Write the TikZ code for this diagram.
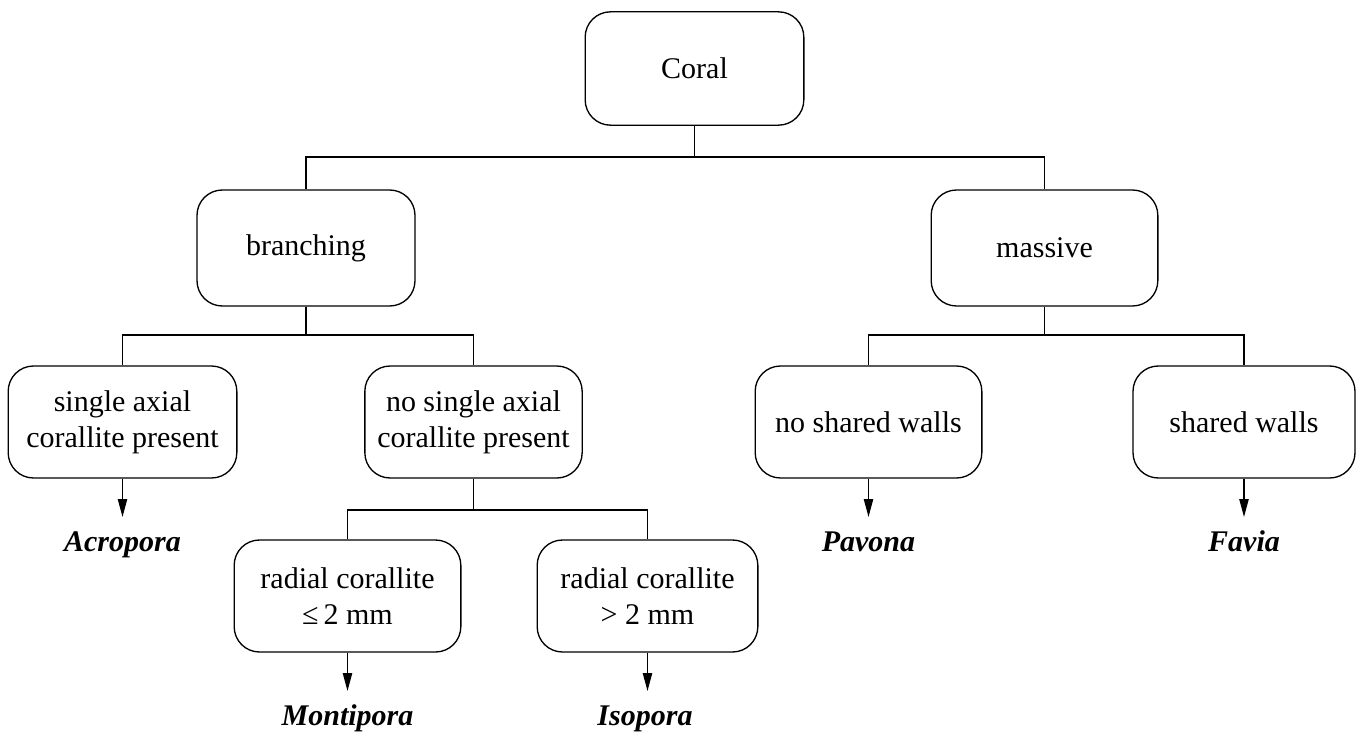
\documentclass[tikz,border=0pt]{standalone}
\usepackage{fontspec}
\setmainfont{Liberation Serif}
\usetikzlibrary{arrows.meta}
\begin{document}
\begin{tikzpicture}[x=0.75pt,y=-0.75pt,
  box/.style={draw, line width=1pt, rounded corners=19pt, align=center,
    minimum height=85pt, inner sep=2pt, font=\fontsize{22.5}{27}\selectfont},
  genus/.style={font=\fontsize{22.5}{27}\selectfont\bfseries\itshape, inner sep=1pt, anchor=base},
  conn/.style={line width=1pt},
  arr/.style={line width=1pt, -{Triangle[length=13.5pt,width=7pt]}}]
\useasboundingbox (0,0) rectangle (1367,735);
% boxes
\node[box, minimum width=164pt, minimum height=85pt] (coral) at (694.5,68.5) {Coral};
\node[box, minimum width=163.5pt, minimum height=87pt] (branching) at (306,248) {branching};
\node[box, minimum width=170pt, minimum height=87pt] (massive) at (1044.5,248) {massive};
\node[box, minimum width=171.5pt, minimum height=84pt] (single) at (122.5,422) {single axial\\corallite present};
\node[box, minimum width=163pt, minimum height=84pt] (nosingle) at (473.5,422) {no single axial\\corallite present};
\node[box, minimum width=170pt, minimum height=84pt] (noshared) at (868.5,422) {no shared walls};
\node[box, minimum width=166.5pt, minimum height=84pt] (shared) at (1244,422) {shared walls};
\node[box, minimum width=170pt, minimum height=84pt] (radle) at (347.5,596) {radial corallite\\≤\,2 mm};
\node[box, minimum width=165.5pt, minimum height=84pt] (radgt) at (647.5,596) {radial corallite\\> 2 mm};
% genera
\node[genus] (acropora) at (122.5,551) {Acropora};
\node[genus] (pavona) at (868.5,551) {Pavona};
\node[genus] (favia) at (1244,551) {Favia};
\node[genus] (montipora) at (347.5,725) {Montipora};
\node[genus] (isopora) at (645,725) {Isopora};
% bus coordinates
\coordinate (b1) at (694.5,157);
\coordinate (b2) at (306,335);
\coordinate (b3) at (1044.5,335);
\coordinate (b4) at (473.5,510);
% tree connectors
\draw[conn] (coral.south) -- (b1);
\draw[conn] (b1) -| (branching.north);
\draw[conn] (b1) -| (massive.north);
\draw[conn] (branching.south) -- (b2);
\draw[conn] (b2) -| (single.north);
\draw[conn] (b2) -| (nosingle.north);
\draw[conn] (massive.south) -- (b3);
\draw[conn] (b3) -| (noshared.north);
\draw[conn] (b3) -| (shared.north);
\draw[conn] (nosingle.south) -- (b4);
\draw[conn] (b4) -| (radle.north);
\draw[conn] (b4) -| (radgt.north);
% arrow ends
\coordinate (e1) at (122.5,517);
\coordinate (e2) at (868.5,517);
\coordinate (e3) at (1244,517);
\coordinate (e4) at (347.5,691);
\coordinate (e5) at (647.5,691);
\draw[arr] (single.south) -- (e1);
\draw[arr] (noshared.south) -- (e2);
\draw[arr] (shared.south) -- (e3);
\draw[arr] (radle.south) -- (e4);
\draw[arr] (radgt.south) -- (e5);
\end{tikzpicture}
\end{document}
